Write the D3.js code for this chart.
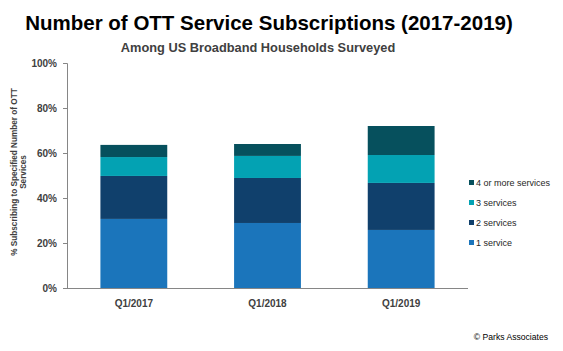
<!DOCTYPE html>
<html lang="en">
<head>
    <meta charset="UTF-8">
    <title>Number of OTT Service Subscriptions</title>
    <script src="https://cdnjs.cloudflare.com/ajax/libs/d3/7.8.5/d3.min.js"></script>
    <style>
        body { margin: 0; background: #fff; }
        text { font-family: Arial, "Liberation Sans", sans-serif; }
    </style>
</head>
<body>
    <div id="chart"></div>

    <script>
        // Data
        const quarters = ["Q1/2017", "Q1/2018", "Q1/2019"];
        const seriesNames = ["1 service", "2 services", "3 services", "4 or more services"];
        const oneService = [30.7, 28.9, 25.8];
        const twoServices = [19.1, 20.0, 20.9];
        const threeServices = [8.4, 9.8, 12.4];
        const fourPlus = [5.4, 5.3, 12.9];
        const yTicks = [0, 20, 40, 60, 80, 100];

        const colors = ["#1b75bb", "#10406c", "#03a2b3", "#06505d"];

        const rows = quarters.map((q, i) => ({
            quarter: q,
            "1 service": oneService[i],
            "2 services": twoServices[i],
            "3 services": threeServices[i],
            "4 or more services": fourPlus[i]
        }));

        const width = 563, height = 351;
        const plot = { left: 67, right: 468, top: 63, bottom: 288 };

        const svg = d3.select("#chart").append("svg")
            .attr("width", width)
            .attr("height", height);

        const x = d3.scaleBand()
            .domain(quarters)
            .range([plot.left, plot.right])
            .paddingInner(0.5)
            .paddingOuter(0.25);

        const y = d3.scaleLinear()
            .domain([0, 100])
            .range([plot.bottom, plot.top]);

        const color = d3.scaleOrdinal().domain(seriesNames).range(colors);

        const stack = d3.stack().keys(seriesNames);

        // Bars
        svg.append("g")
            .selectAll("g")
            .data(stack(rows))
            .join("g")
            .attr("fill", d => color(d.key))
            .selectAll("rect")
            .data(d => d)
            .join("rect")
            .attr("x", d => x(d.data.quarter))
            .attr("width", x.bandwidth())
            .attr("y", d => y(d[1]))
            .attr("height", d => y(d[0]) - y(d[1]));

        // Y axis
        const yAxis = svg.append("g")
            .attr("transform", `translate(${plot.left},0)`)
            .call(d3.axisLeft(y).tickValues(yTicks).tickFormat(d => d + "%").tickSize(4).tickPadding(6));
        yAxis.select(".domain").attr("stroke", "#868686");
        yAxis.selectAll(".tick line").attr("stroke", "#868686");
        yAxis.selectAll(".tick text")
            .attr("fill", "#404040")
            .style("font-size", "10px")
            .style("font-weight", "bold");

        // X axis
        const xAxis = svg.append("g")
            .attr("transform", `translate(0,${plot.bottom})`)
            .call(d3.axisBottom(x).tickSize(0).tickPadding(12));
        xAxis.select(".domain").attr("stroke", "#868686").attr("d", `M${plot.left},0.5H${plot.right}`);
        xAxis.selectAll(".tick text")
            .attr("fill", "#404040")
            .style("font-size", "10px")
            .style("font-weight", "bold");

        // Titles
        svg.append("text")
            .attr("x", 269)
            .attr("y", 30)
            .attr("text-anchor", "middle")
            .style("font-size", "20.5px")
            .style("font-weight", "bold")
            .attr("fill", "#000")
            .text("Number of OTT Service Subscriptions (2017-2019)");

        svg.append("text")
            .attr("x", 258)
            .attr("y", 52)
            .attr("text-anchor", "middle")
            .style("font-size", "12.8px")
            .style("font-weight", "bold")
            .attr("fill", "#404040")
            .text("Among US Broadband Households Surveyed");

        // Y axis title (two lines)
        const yTitle = svg.append("text")
            .attr("transform", "translate(17,172) rotate(-90)")
            .attr("text-anchor", "middle")
            .style("font-size", "8.2px")
            .style("font-weight", "bold")
            .attr("fill", "#404040");
        yTitle.append("tspan").attr("x", 0).attr("dy", 0)
            .text("% Subscribing to Specified Number of OTT");
        yTitle.append("tspan").attr("x", 0).attr("dy", "1.1em")
            .text("Services");

        // Legend (reverse order, top = 4 or more)
        const legend = svg.append("g")
            .attr("transform", "translate(469,180)");
        const legendItems = legend.selectAll("g")
            .data(seriesNames.slice().reverse())
            .join("g")
            .attr("transform", (d, i) => `translate(0,${i * 20})`);
        legendItems.append("rect")
            .attr("width", 5)
            .attr("height", 5)
            .attr("fill", d => color(d));
        legendItems.append("text")
            .attr("x", 7)
            .attr("y", 6)
            .style("font-size", "9px")
            .attr("fill", "#262626")
            .text(d => d);

        // Source
        svg.append("text")
            .attr("x", 548)
            .attr("y", 340)
            .attr("text-anchor", "end")
            .style("font-size", "8.6px")
            .attr("fill", "#000")
            .text("\u00A9 Parks Associates");
    </script>
</body>
</html>
